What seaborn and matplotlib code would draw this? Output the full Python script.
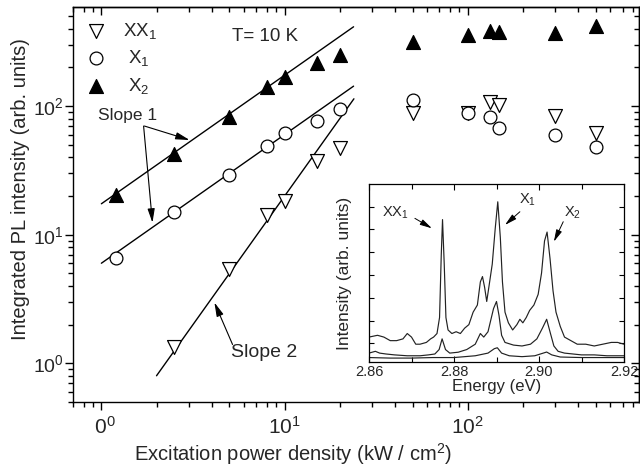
import numpy as np
import matplotlib
matplotlib.use("Agg")
import matplotlib.pyplot as plt
import matplotlib.ticker as mticker
import seaborn as sns
import pandas as pd

# ---------------- data ----------------
power_x2 = [1.2, 2.5, 5, 8, 10, 15, 20, 50, 100, 133, 148, 300, 500]
int_x2 = [20.4, 42.5, 82, 140, 168, 215, 248, 313, 355, 381, 374, 368, 417]

power_x1 = [1.2, 2.5, 5, 8, 10, 15, 20, 50, 100, 133, 148, 300, 500]
int_x1 = [6.6, 15.1, 29.2, 49, 62, 76.6, 95, 111, 88, 82, 67.5, 60, 48]

power_xx1 = [2.5, 5, 8, 10, 15, 20, 50, 100, 133, 148, 300, 500]
int_xx1 = [1.33, 5.45, 14.3, 18.4, 37.5, 47, 88, 88, 107, 102, 84, 62]

# fitted power-law lines (end points)
fit_x2_x = [1.0, 23.8]
fit_x2_y = [17.4, 414]
fit_x1_x = [1.0, 23.8]
fit_x1_y = [6.0, 143]
fit_xx1_x = [2.0, 23.9]
fit_xx1_y = [0.80, 114]

# inset spectra (energy in eV, intensity arb. units)
e_top = [2.8600, 2.8620, 2.8635, 2.8650, 2.8665, 2.8680, 2.8690, 2.8700, 2.8710,
         2.8720, 2.8735, 2.8745, 2.8752, 2.8760, 2.8766, 2.8770, 2.8773, 2.8777,
         2.8781, 2.8786, 2.8795, 2.8805, 2.8815, 2.8825, 2.8835, 2.8845, 2.8855,
         2.8862, 2.8867, 2.8872, 2.8877, 2.8882, 2.8890, 2.8897, 2.8903, 2.8909,
         2.8914, 2.8920, 2.8928, 2.8938, 2.8948, 2.8955, 2.8962, 2.8970, 2.8978,
         2.8988, 2.8998, 2.9006, 2.9013, 2.9019, 2.9026, 2.9033, 2.9040, 2.9050,
         2.9060, 2.9075, 2.9090, 2.9110, 2.9130, 2.9150, 2.9170, 2.9185, 2.9200]
i_top = [0.14, 0.15, 0.14, 0.12, 0.12, 0.13, 0.16, 0.14, 0.10,
         0.10, 0.11, 0.13, 0.14, 0.16, 0.25, 0.60, 0.80, 0.55,
         0.25, 0.18, 0.16, 0.17, 0.16, 0.19, 0.21, 0.28, 0.32,
         0.45, 0.48, 0.42, 0.34, 0.42, 0.55, 0.75, 0.90, 0.70,
         0.45, 0.28, 0.22, 0.18, 0.21, 0.24, 0.22, 0.25, 0.29,
         0.32, 0.38, 0.50, 0.68, 0.73, 0.58, 0.40, 0.28, 0.20,
         0.14, 0.12, 0.10, 0.10, 0.09, 0.10, 0.11, 0.11, 0.10]

e_mid = [2.8600, 2.8615, 2.8625, 2.8640, 2.8660, 2.8690, 2.8720, 2.8740, 2.8755,
         2.8765, 2.8772, 2.8780, 2.8790, 2.8810, 2.8830, 2.8850, 2.8862, 2.8870,
         2.8880, 2.8893, 2.8900, 2.8906, 2.8912, 2.8920, 2.8940, 2.8960, 2.8980,
         2.8995, 2.9008, 2.9018, 2.9027, 2.9035, 2.9045, 2.9060, 2.9080, 2.9100,
         2.9130, 2.9160, 2.9200]
i_mid = [0.05, 0.06, 0.05, 0.045, 0.04, 0.035, 0.035, 0.04, 0.045,
         0.07, 0.13, 0.07, 0.05, 0.055, 0.07, 0.10, 0.16, 0.14,
         0.17, 0.30, 0.34, 0.26, 0.15, 0.11, 0.095, 0.09, 0.10,
         0.13, 0.19, 0.24, 0.16, 0.09, 0.06, 0.05, 0.045, 0.04,
         0.04, 0.035, 0.035]

e_low = [2.8600, 2.8650, 2.8700, 2.8750, 2.8800, 2.8850, 2.8880, 2.8895, 2.8902,
         2.8912, 2.8930, 2.8960, 2.8990, 2.9010, 2.9018, 2.9030, 2.9050, 2.9100,
         2.9200]
i_low = [0.025, 0.022, 0.022, 0.025, 0.025, 0.035, 0.05, 0.075, 0.08,
         0.05, 0.035, 0.03, 0.035, 0.05, 0.056, 0.04, 0.028, 0.025,
         0.025]

# ---------------- style ----------------
sns.set_theme(style="white")
plt.rcParams['font.family'] = ['Liberation Sans', 'DejaVu Sans']
plt.rcParams['mathtext.fontset'] = 'custom'
plt.rcParams['mathtext.rm'] = 'Liberation Sans'
plt.rcParams['mathtext.it'] = 'Liberation Sans:italic'
plt.rcParams['mathtext.bf'] = 'Liberation Sans:bold'
plt.rcParams['axes.edgecolor'] = 'black'
plt.rcParams['axes.linewidth'] = 1.0

fig = plt.figure(figsize=(6.4, 4.72), dpi=100)
ax = fig.add_axes([73 / 640, 1 - 402 / 472, (639 - 73) / 640, (402 - 7) / 472])

ax.set_xscale('log')
ax.set_yscale('log')

# fit lines
for fx, fy in [(fit_x2_x, fit_x2_y), (fit_x1_x, fit_x1_y), (fit_xx1_x, fit_xx1_y)]:
    sns.lineplot(x=fx, y=fy, color='black', lw=1.0, ax=ax, estimator=None, sort=False)

# points
sns.scatterplot(x=power_xx1, y=int_xx1, marker='v', s=100, facecolor='white',
                edgecolor='black', linewidth=0.9, ax=ax, label='XX$_1$', zorder=3)
sns.scatterplot(x=power_x1, y=int_x1, marker='o', s=85, facecolor='white',
                edgecolor='black', linewidth=0.9, ax=ax, label=' X$_1$', zorder=3)
sns.scatterplot(x=power_x2, y=int_x2, marker='^', s=100, facecolor='black',
                edgecolor='black', linewidth=0.9, ax=ax, label=' X$_2$', zorder=3)

ax.set_xlim(0.7, 860)
ax.set_ylim(0.5, 590)

ax.xaxis.set_major_locator(mticker.LogLocator(base=10, numticks=10))
ax.xaxis.set_minor_locator(mticker.LogLocator(base=10, subs=np.arange(2, 10), numticks=20))
ax.yaxis.set_major_locator(mticker.LogLocator(base=10, numticks=10))
ax.yaxis.set_minor_locator(mticker.LogLocator(base=10, subs=np.arange(2, 10), numticks=20))
ax.xaxis.set_minor_formatter(mticker.NullFormatter())
ax.yaxis.set_minor_formatter(mticker.NullFormatter())

xtick_vals = [1, 10, 100]
xtick_text = [r'$\mathdefault{\enspace 0^{0}}$', r'$\mathdefault{10^{1}}$', r'$\mathdefault{10^{2}}$']
ax.set_xticks(xtick_vals)
ax.set_xticklabels(xtick_text)

ax.tick_params(axis='both', which='major', direction='out', length=6, width=1,
               labelsize=15, color='black', left=True, bottom=True)
ax.tick_params(axis='both', which='minor', direction='out', length=3.5, width=1,
               color='black', left=True, bottom=True)
ax.tick_params(axis='y', which='major', pad=0.5, labelsize=14)
ax.tick_params(axis='x', which='major', pad=4)

# top/right inward ticks
ident = (lambda v: v, lambda v: v)
secx = ax.secondary_xaxis('top', functions=ident)
secx.set_xscale('log')
secx.xaxis.set_major_locator(mticker.LogLocator(base=10, numticks=10))
secx.xaxis.set_minor_locator(mticker.LogLocator(base=10, subs=np.arange(2, 10), numticks=20))
secx.xaxis.set_major_formatter(mticker.NullFormatter())
secx.xaxis.set_minor_formatter(mticker.NullFormatter())
secx.tick_params(which='major', direction='in', length=6, width=1, color='black')
secx.tick_params(which='minor', direction='in', length=3.5, width=1, color='black')

secy = ax.secondary_yaxis('right', functions=ident)
secy.set_yscale('log')
secy.yaxis.set_major_locator(mticker.LogLocator(base=10, numticks=10))
secy.yaxis.set_minor_locator(mticker.LogLocator(base=10, subs=np.arange(2, 10), numticks=20))
secy.yaxis.set_major_formatter(mticker.NullFormatter())
secy.yaxis.set_minor_formatter(mticker.NullFormatter())
secy.tick_params(which='major', direction='in', length=6, width=1, color='black')
secy.tick_params(which='minor', direction='in', length=3.5, width=1, color='black')

ax.set_xlabel('Excitation power density (kW / cm$^2$)', fontsize=14.5)
ax.set_ylabel('Integrated PL intensity (arb. units)', fontsize=14.5)
ax.xaxis.set_label_coords(0.388, -0.098)
ax.yaxis.set_label_coords(-0.076, 0.54)

leg = ax.legend(loc='upper left', bbox_to_anchor=(0.008, 0.975), frameon=False,
                fontsize=13.5, handletextpad=0.6, labelspacing=0.4,
                borderaxespad=0, borderpad=0.2, handlelength=1.6)

# annotations main
ax.text(7.87, 349, 'T= 10 K', fontsize=13.5, ha='center', va='center')
ax.text(1.387, 85.2, 'Slope 1', fontsize=12.5, ha='center', va='center')
ax.text(7.78, 1.22, 'Slope 2', fontsize=14, ha='center', va='center')
arrow_kw = dict(arrowstyle='-|>,head_length=0.7,head_width=0.18', color='black', lw=0.8,
                shrinkA=0, shrinkB=0)
ax.annotate('', xy=(3.03, 54.5), xytext=(1.718, 70), arrowprops=arrow_kw)
ax.annotate('', xy=(1.90, 12.4), xytext=(1.70, 70), arrowprops=arrow_kw)
ax.annotate('', xy=(4.14, 2.97), xytext=(5.2, 1.40), arrowprops=arrow_kw)

# ---------------- inset ----------------
ins = fig.add_axes([369 / 640, 1 - 362 / 472, (624 - 369) / 640, (362 - 184) / 472])
ins.set_facecolor('white')
for ex, iy in [(e_top, i_top), (e_mid, i_mid), (e_low, i_low)]:
    sns.lineplot(x=ex, y=iy, color='#222222', lw=0.85, ax=ins, estimator=None, sort=False)
ins.set_xlim(2.86, 2.92)
ins.set_ylim(0, 1)
ins.set_xticks([2.86, 2.88, 2.90, 2.92])
ins.set_xticklabels(['2.86', '2.88', '2.90', '2.92'])
ins.xaxis.set_minor_locator(mticker.FixedLocator([2.87, 2.89, 2.91]))
ins.set_yticks(np.arange(0.105, 1.0, 0.128))
ins.set_yticklabels([])
ins.tick_params(which='both', direction='in', top=True, right=True, bottom=True, left=True,
                length=3.5, width=0.8, color='black', labelsize=10.5, pad=2)
ins.tick_params(axis='x', which='major', length=4)
for sp in ins.spines.values():
    sp.set_linewidth(0.9)
    sp.set_color('black')
ins.set_xlabel('Energy (eV)', fontsize=12, labelpad=0)
ins.set_ylabel('Intensity (arb. units)', fontsize=12.5)
ins.yaxis.set_label_coords(-0.065, 0.5)

arrow_kw2 = dict(arrowstyle='-|>,head_length=0.6,head_width=0.15', color='black', lw=0.7,
                 shrinkA=0, shrinkB=0)
ins.text(2.8661, 0.837, 'XX$_1$', fontsize=10.5, ha='center', va='center')
ins.annotate('', xy=(2.8748, 0.751), xytext=(2.8708, 0.807), arrowprops=arrow_kw2)
ins.text(2.8972, 0.910, 'X$_1$', fontsize=10.5, ha='center', va='center')
ins.annotate('', xy=(2.8920, 0.770), xytext=(2.8955, 0.844), arrowprops=arrow_kw2)
ins.text(2.9078, 0.837, 'X$_2$', fontsize=10.5, ha='center', va='center')
ins.annotate('', xy=(2.9035, 0.676), xytext=(2.9057, 0.788), arrowprops=arrow_kw2)

fig.savefig('out.png', dpi=100)
